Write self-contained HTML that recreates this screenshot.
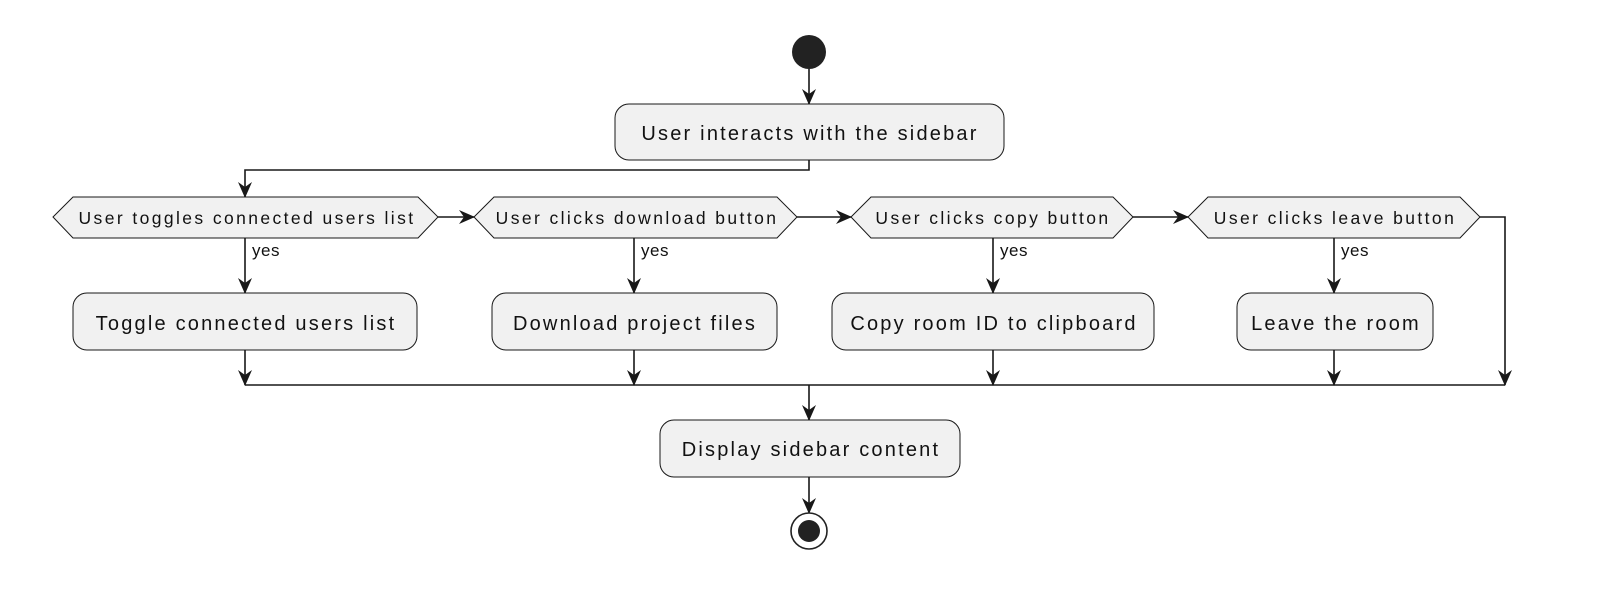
<!DOCTYPE html>
<html><head><style>body{margin:0;background:#fff}svg{display:block}text{font-family:"Liberation Sans",sans-serif;fill:#111}</style></head><body>
<svg width="1600" height="598" viewBox="0 0 1600 598" xmlns="http://www.w3.org/2000/svg">
<defs><marker id="a" markerWidth="20" markerHeight="20" refX="15" refY="7" orient="auto" markerUnits="userSpaceOnUse"><path d="M0,0 L16,7 L0,14 L5,7 Z" fill="#181818"/></marker></defs>
<g stroke="#181818" stroke-width="1.6" fill="none">
<line x1="809" y1="69" x2="809" y2="104" marker-end="url(#a)"/>
<polyline points="809,160 809,170 245,170 245,197" marker-end="url(#a)"/>
<line x1="438" y1="217" x2="474" y2="217" marker-end="url(#a)"/>
<line x1="797" y1="217" x2="851" y2="217" marker-end="url(#a)"/>
<line x1="1133" y1="217" x2="1188" y2="217" marker-end="url(#a)"/>
<polyline points="1480,217 1505,217 1505,385" marker-end="url(#a)"/>
<line x1="245" y1="238" x2="245" y2="293" marker-end="url(#a)"/>
<line x1="634" y1="238" x2="634" y2="293" marker-end="url(#a)"/>
<line x1="993" y1="238" x2="993" y2="293" marker-end="url(#a)"/>
<line x1="1334" y1="238" x2="1334" y2="293" marker-end="url(#a)"/>
<line x1="245" y1="350" x2="245" y2="385" marker-end="url(#a)"/>
<line x1="634" y1="350" x2="634" y2="385" marker-end="url(#a)"/>
<line x1="993" y1="350" x2="993" y2="385" marker-end="url(#a)"/>
<line x1="1334" y1="350" x2="1334" y2="385" marker-end="url(#a)"/>
<line x1="245" y1="385" x2="1505" y2="385"/>
<line x1="809" y1="385" x2="809" y2="420" marker-end="url(#a)"/>
<line x1="809" y1="477" x2="809" y2="513" marker-end="url(#a)"/>
</g>
<circle cx="809" cy="52" r="17" fill="#222"/>
<circle cx="809" cy="531" r="18" fill="#fff" stroke="#222" stroke-width="1.6"/>
<circle cx="809" cy="531" r="11" fill="#222"/>
<g fill="#f1f1f1" stroke="#181818" stroke-width="1">
<rect x="615" y="104" width="389" height="56" rx="14"/>
<polygon points="53,217 73,197 418,197 438,217 418,238 73,238"/>
<polygon points="474,217 494,197 777,197 797,217 777,238 494,238"/>
<polygon points="851,217 871,197 1113,197 1133,217 1113,238 871,238"/>
<polygon points="1188,217 1208,197 1460,197 1480,217 1460,238 1208,238"/>
<rect x="73" y="293" width="344" height="57" rx="14"/>
<rect x="492" y="293" width="285" height="57" rx="14"/>
<rect x="832" y="293" width="322" height="57" rx="14"/>
<rect x="1237" y="293" width="196" height="57" rx="14"/>
<rect x="660" y="420" width="300" height="57" rx="14"/>
</g>
<g font-size="20" text-anchor="middle" letter-spacing="2.2">
<text x="810" y="140">User interacts with the sidebar</text>
<text x="246" y="330">Toggle connected users list</text>
<text x="635" y="330">Download project files</text>
<text x="994" y="330">Copy room ID to clipboard</text>
<text x="1336" y="330">Leave the room</text>
<text x="811" y="456">Display sidebar content</text>
</g>
<g font-size="17.5" text-anchor="middle" letter-spacing="2.4">
<text x="247" y="224">User toggles connected users list</text>
<text x="637" y="224">User clicks download button</text>
<text x="993" y="224">User clicks copy button</text>
<text x="1335" y="224">User clicks leave button</text>
</g>
<g font-size="17" letter-spacing="0.5">
<text x="252" y="256">yes</text>
<text x="641" y="256">yes</text>
<text x="1000" y="256">yes</text>
<text x="1341" y="256">yes</text>
</g>
</svg>
</body></html>
